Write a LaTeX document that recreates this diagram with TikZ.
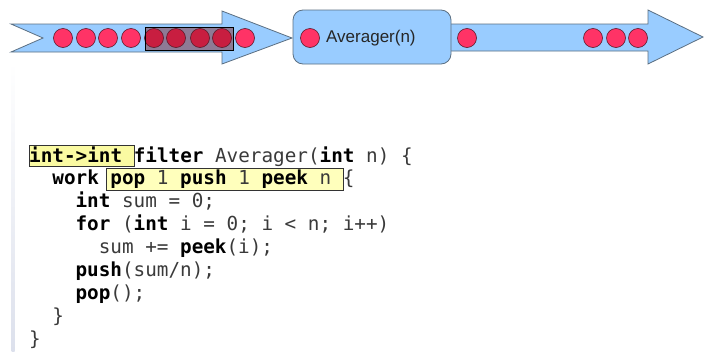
\documentclass[tikz,border=0pt]{standalone}
\usepackage{fontspec}
\newfontfamily\codefont{DejaVu Sans Mono}[WordSpace={1,0,0}]
\newfontfamily\labelfont{Liberation Sans}
\definecolor{streamblue}{HTML}{99CCFF}
\definecolor{streamedge}{HTML}{5B6F82}
\definecolor{tokred}{HTML}{FF3366}
\definecolor{tokdark}{HTML}{C81E40}
\definecolor{tokedge}{HTML}{5A1A2A}
\definecolor{windowfill}{HTML}{8E7A95}
\definecolor{codegray}{HTML}{3A3A3A}
\definecolor{hlfillA}{HTML}{FAFAA2}
\definecolor{hlfillB}{HTML}{FFFFBC}
\definecolor{railgray}{HTML}{DCE0EC}
\begin{document}
\begin{tikzpicture}[x=1pt,y=-1pt,
  stream/.style={fill=streamblue,draw=streamedge,line width=0.8pt,line join=miter},
  tok/.style={circle,fill=tokred,draw=tokedge,line width=0.6pt,minimum size=19pt,inner sep=0pt},
  tokdim/.style={tok,fill=tokdark},
  filterbox/.style={rectangle,rounded corners=10pt,fill=streamblue,draw=streamedge,line width=0.8pt},
  codeline/.style={anchor=base west,inner sep=0pt,text=codegray,
    font=\codefont\fontsize{19.3}{23}\selectfont},
  hilite/.style={draw=black!80,line width=0.8pt},
]
\useasboundingbox (0,0) rectangle (704,351);

% faint rail at the left margin
\shade[top color=white,bottom color=railgray] (11.5,62) rectangle (14.5,351);

% input stream (notched arrow) and output stream
\draw[stream] (11,24) -- (222,24) -- (222,11) -- (292,38) -- (222,64)
  -- (222,52) -- (11,52) -- (43,38) -- cycle;
\draw[stream] (451,24) -- (648,24) -- (648,10) -- (703,37) -- (648,64)
  -- (648,51) -- (451,51);

% the filter
\node[filterbox,minimum width=158pt,minimum height=54pt] (avg) at (372,37) {};
\node[tok] (ftok) at (310,38) {};
\node[anchor=west,inner sep=0pt,font=\labelfont\fontsize{17}{20}\selectfont,text=black!85]
  (avglabel) at (326,38) {Averager(n)};

% tokens on the input stream
\node[tok] (in1) at (63,38) {};
\node[tok] (in2) at (86,38) {};
\node[tok] (in3) at (108,38) {};
\node[tok] (in4) at (131,38) {};
\node[tok] (in9) at (245,38) {};

% peek window over the input tokens
\filldraw[fill=windowfill,draw=black,line width=0.8pt] (145,27) rectangle (233,50);
\node[tokdim] (in5) at (154,38) {};
\node[tokdim] (in6) at (176,38) {};
\node[tokdim] (in7) at (200,38) {};
\node[tokdim] (in8) at (222,38) {};
\draw[black,line width=0.8pt] (145,27) rectangle (233,50);

% tokens on the output stream
\node[tok] (out1) at (467,38) {};
\node[tok] (out2) at (593,38) {};
\node[tok] (out3) at (616,38) {};
\node[tok] (out4) at (638,38) {};

% highlighted parts of the declaration
\filldraw[hilite,fill=hlfillA] (29,145) rectangle (134,166);
\filldraw[hilite,fill=hlfillB] (106,168) rectangle (343,190);

% StreamIt source
\node[codeline] (l1) at (29,162) {\textcolor{black}{\bfseries int->int} \textcolor{black}{\bfseries filter} Averager(\textcolor{black}{\bfseries int} n) \{};
\node[codeline] (l2) at (52.2,184.9) {\textcolor{black}{\bfseries work} \textcolor{black}{\bfseries pop} 1 \textcolor{black}{\bfseries push} 1 \textcolor{black}{\bfseries peek} n \{};
\node[codeline] (l3) at (75.4,207.8) {\textcolor{black}{\bfseries int} sum = 0;};
\node[codeline] (l4) at (75.4,230.7) {\textcolor{black}{\bfseries for} (\textcolor{black}{\bfseries int} i = 0; i < n; i++)};
\node[codeline] (l5) at (98.6,253.6) {sum += \textcolor{black}{\bfseries peek}(i);};
\node[codeline] (l6) at (75.4,276.5) {\textcolor{black}{\bfseries push}(sum/n);};
\node[codeline] (l7) at (75.4,299.4) {\textcolor{black}{\bfseries pop}();};
\node[codeline] (l8) at (52.2,322.3) {\}};
\node[codeline] (l9) at (29,345.2) {\}};
\end{tikzpicture}
\end{document}
